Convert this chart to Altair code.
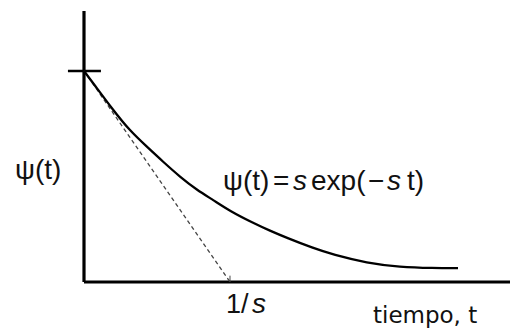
import altair as alt
import pandas as pd

# Decay curve psi(t), t in units of 1/s, psi in units of s
t_vals = [0.0, 0.062, 0.199, 0.315, 0.432, 0.541, 0.658, 0.774, 0.884, 1.0,
          1.158, 1.274, 1.390, 1.568, 1.705, 1.938, 2.164, 2.390, 2.562]
psi_vals = [1.0, 0.943, 0.815, 0.716, 0.640, 0.570, 0.498, 0.436, 0.389, 0.336,
            0.280, 0.243, 0.209, 0.161, 0.130, 0.090, 0.071, 0.066, 0.066]

# Initial tangent: from (0, s) down to the axis at t = 1/s
tangent_t = [0.0, 1.0]
tangent_psi = [1.0, 0.0]

X_MAX = 2.918
Y_MAX = 1.284

SANS = "Liberation Sans"
WIDE = "DejaVu Sans"

xs = alt.Scale(domain=[0, X_MAX], nice=False, zero=False)
ys = alt.Scale(domain=[0, Y_MAX], nice=False, zero=False)
X = lambda f: alt.X(f, type="quantitative", scale=xs, axis=None)
Y = lambda f: alt.Y(f, type="quantitative", scale=ys, axis=None)

curve_df = pd.DataFrame({"t": t_vals, "psi": psi_vals})
tangent_df = pd.DataFrame({"t": tangent_t, "psi": tangent_psi})

# Axis lines drawn as rules
axes_df = pd.DataFrame({"t": [0, 0], "t2": [0, X_MAX], "p": [0, 0], "p2": [Y_MAX, 0]})
axes = alt.Chart(axes_df).mark_rule(color="black", strokeWidth=3.2).encode(
    x=X("t"), x2="t2", y=Y("p"), y2="p2")

# Tick marking psi(0) = s on the vertical axis
tick_s = alt.Chart(pd.DataFrame({"t": [-0.11], "t2": [0.116], "p": [1.0]})).mark_rule(
    color="black", strokeWidth=2.4).encode(x=X("t"), x2="t2", y=Y("p"))

# Small tick at t = 1/s
tick_inv = alt.Chart(pd.DataFrame({"t": [1.0], "p": [0.0], "p2": [0.03]})).mark_rule(
    color="#444", strokeWidth=1).encode(x=X("t"), y=Y("p"), y2="p2")

curve = alt.Chart(curve_df).mark_line(
    color="black", strokeWidth=2.3, interpolate="basis").encode(
    x=X("t"), y=Y("psi"))

tangent = alt.Chart(tangent_df).mark_line(
    color="#444", strokeWidth=1.3, strokeDash=[4, 3]).encode(
    x=X("t"), y=Y("psi"))

# Text pieces: upright and italic parts of the labels
upright = pd.DataFrame({
    "txt": ["ψ(t)", "ψ(t)", "=", "exp(", "−", "t)"],
    "t": [-0.4726, 0.9521, 1.2945, 1.5548, 1.9452, 2.2123],
    "p": [0.4882, 0.4360, 0.4360, 0.4360, 0.4360, 0.4360],
})
italic = pd.DataFrame({
    "txt": ["s", "s"],
    "t": [1.4315, 2.0753],
    "p": [0.4360, 0.4360],
})

def text_layer(df, size, font=SANS, style="normal"):
    return alt.Chart(df).mark_text(
        align="left", baseline="alphabetic", font=font, fontSize=size,
        fontStyle=style, color="#111").encode(
        x=X("t"), y=Y("p"), text="txt:N")

formula_up = text_layer(upright, 28)
formula_it = text_layer(italic, 28, style="italic")

inv_up = text_layer(pd.DataFrame({"txt": ["1/"], "t": [0.9726], "p": [-0.1469]}), 27)
inv_it = text_layer(pd.DataFrame({"txt": ["s"], "t": [1.1507], "p": [-0.1469]}), 28,
                    style="italic")
xlabel = text_layer(pd.DataFrame({"txt": ["tiempo, t"], "t": [1.9795], "p": [-0.1943]}),
                    23, font=WIDE)

chart = alt.layer(
    axes, tick_s, tick_inv, tangent, curve,
    formula_up, formula_it, inv_up, inv_it, xlabel
).properties(
    width=426, height=271,
    autosize=alt.AutoSizeParams(type="none"),
    padding={"left": 84, "top": 11, "right": 0, "bottom": 48},
    background="white",
).configure_view(stroke=None)

chart.save("out.html", embed_options={"renderer": "svg", "actions": False})
